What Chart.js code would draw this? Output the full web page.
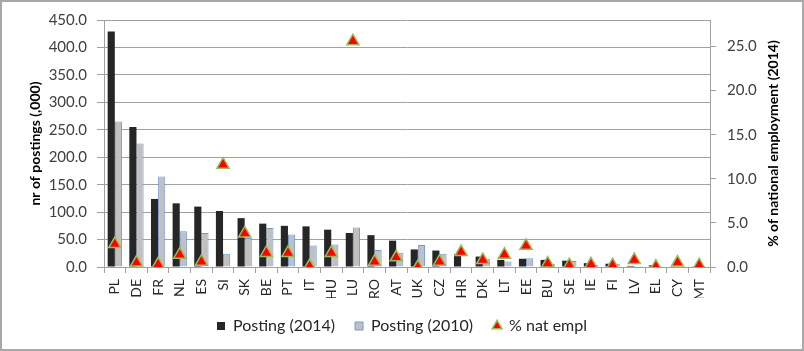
<!DOCTYPE html>
<html><head><meta charset="utf-8">
<script src="https://cdn.jsdelivr.net/npm/chart.js@4"></script>
<style>html,body{margin:0;padding:0;background:#fff}#w{width:804px;height:351px;position:relative}</style>
</head><body><div id="w"><canvas id="c" width="804" height="351"></canvas></div>
<script>
const countries = ["PL","DE","FR","NL","ES","SI","SK","BE","PT","IT","HU","LU","RO","AT","UK","CZ","HR","DK","LT","EE","BU","SE","IE","FI","LV","EL","CY","MT"];
const posting2014 = [429,255,124,116,110,102,89,79,75,74,68,62,58,48,32,30,23,19,13,15,13,11.5,7,6,2,3,1,0.5];
const posting2010 = [265,225,165,65,62,24,53,71,59,39,41,72,31,26,40,24,0,15,10,16,6,11,4,6,2,2,1,1];
const natEmplPct = [2.6,0.5,0.3,1.4,0.6,11.6,3.8,1.6,1.6,0.1,1.6,25.6,0.6,1.1,0.0,0.6,1.7,0.8,1.4,2.4,0.4,0.2,0.3,0.2,0.8,0.05,0.5,0.2];
const seriesNames = ["Posting (2014)","Posting (2010)","% nat empl"];
const leftTitle = "nr of postings (,000)";
const rightTitle = "% of national employment (2014)";

const FONT = "Lato";
const GRID = "#a0a0a0";
const framePlugin = {id:'frame', afterDraw(chart){
  const c=chart.ctx;c.save();
  const a=chart.chartArea;
  c.translate(773,(a.top+a.bottom)/2);c.rotate(-Math.PI/2);
  c.font='bold 14px '+FONT;c.fillStyle='#000';c.textAlign='center';c.textBaseline='middle';
  c.fillText(rightTitle,0,0);
  c.restore();
  c.save();c.strokeStyle='#a8a8a8';c.lineWidth=2;c.strokeRect(1,1,802,349);c.restore();
}};

new Chart(document.getElementById('c'), {
  type: 'bar',
  data: {
    labels: countries,
    datasets: [
      {label: seriesNames[0], data: posting2014, backgroundColor:'#262626', borderColor:'#262626', borderWidth:0, yAxisID:'y', order:1, pointStyle:'rect', categoryPercentage:0.66, barPercentage:1},
      {label: seriesNames[1], data: posting2010, backgroundColor:'#c0c0c0', borderColor:'#6f9bd1', borderWidth:1, yAxisID:'y', order:1, pointStyle:'rect', categoryPercentage:0.66, barPercentage:1},
      {type:'line', label: seriesNames[2], data: natEmplPct, yAxisID:'y1', showLine:false, pointStyle:'triangle', pointRadius:7, pointHoverRadius:7, backgroundColor:'#ff0000', borderColor:'#9bbb59', borderWidth:1.5, order:0}
    ]
  },
  options: {
    responsive:false, animation:false,
    layout:{padding:{top:19,left:0,right:0,bottom:7}},
    plugins:{
      tooltip:{enabled:false},
      legend:{position:'bottom', labels:{usePointStyle:true, boxWidth:8, boxHeight:8, padding:20, color:'#262626', font:{family:FONT,size:16}, sort:(a,b)=>a.datasetIndex-b.datasetIndex}}
    },
    scales:{
      x:{
        grid:{display:true, drawOnChartArea:false, tickLength:6, color:GRID},
        border:{color:GRID},
        ticks:{minRotation:90, maxRotation:90, padding:6, color:'#262626', font:{family:FONT,size:14}, autoSkip:false},
        afterFit(s){s.height=31;}
      },
      y:{
        position:'left', min:0, max:450,
        ticks:{stepSize:50, padding:10, color:'#404040', font:{family:FONT,size:15}, callback:v=>v.toFixed(1)},
        grid:{color:GRID, tickLength:7},
        border:{color:GRID},
        title:{display:true, text:leftTitle, color:'#000', font:{family:FONT,size:14,weight:'bold'}, padding:{top:27,bottom:0}},
        afterFit(s){s.width=104;}
      },
      y1:{
        position:'right', min:0, max:28,
        ticks:{stepSize:5, includeBounds:false, padding:11, color:'#404040', font:{family:FONT,size:15}, callback:v=>v.toFixed(1)},
        grid:{drawOnChartArea:false, color:GRID, tickLength:6},
        border:{color:GRID},
        afterFit(s){s.width=94;}
      }
    }
  },
  plugins:[framePlugin]
});
</script></body></html>
